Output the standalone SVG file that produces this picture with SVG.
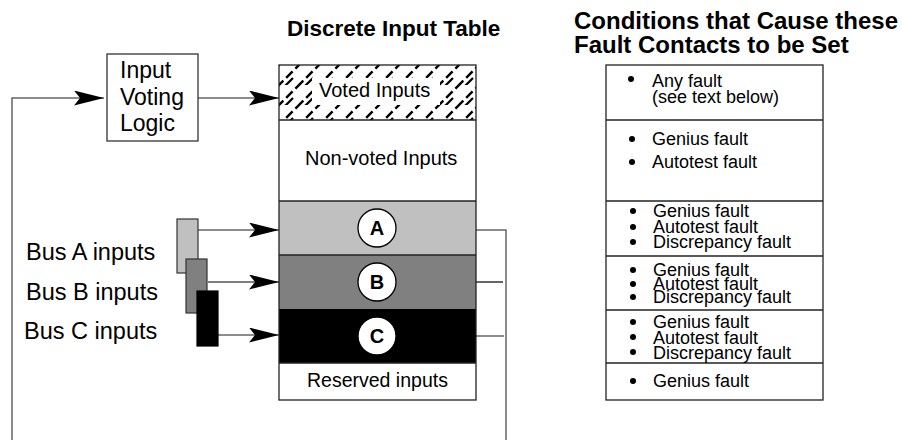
<svg xmlns="http://www.w3.org/2000/svg" width="902" height="442" viewBox="0 0 902 442">
<style>
text{font-family:"Liberation Sans",Arial,sans-serif;fill:#000}
.title{font-weight:bold;font-size:22.5px}
.big{font-size:23px}
.bus{font-size:23.5px}
.tbl{font-size:20px}
.cond{font-size:18px}
.lbl{font-weight:bold;font-size:20px;text-anchor:middle}
.box{fill:#fff;stroke:#333;stroke-width:1.3}
.conn{fill:none;stroke:#666;stroke-width:1.5}
.connb{fill:none;stroke:#000;stroke-width:1.2}
.row{stroke:#222;stroke-width:1.3}
.circ{fill:#fff;stroke:#000;stroke-width:1.3}
.dot{fill:#000}
</style>
<defs>
<marker id="arr" viewBox="0 0 30 15" refX="30" refY="7.5" markerWidth="30" markerHeight="15" markerUnits="userSpaceOnUse" orient="auto">
<path d="M0,0 L30,7.5 L0,15 L6,7.5 Z" fill="#000"/>
</marker>
<pattern id="hatch" patternUnits="userSpaceOnUse" width="20" height="20" x="279" y="65">
<path d="M-2,22 L22,-2" stroke="#000" stroke-width="2.4" stroke-dasharray="9 4"/>
<path d="M-3,3 L3,-3 M17,23 L23,17" stroke="#000" stroke-width="2.4"/>
<path d="M5,22 L14,13" stroke="#000" stroke-width="2.2"/>
</pattern>
</defs>

<g id="titles">
<text class="title" x="287" y="36">Discrete Input Table</text>
<text class="title" x="574" y="29" style="font-size:24px">Conditions that Cause these</text>
<text class="title" x="574" y="53" style="font-size:24px">Fault Contacts to be Set</text>
</g>

<g id="connectors">
<polyline class="conn" points="12,440 12,98 104,98" marker-end="url(#arr)"/>
<line class="conn" x1="198" y1="98" x2="279" y2="98" marker-end="url(#arr)"/>
<line class="conn" x1="198" y1="230" x2="279" y2="230" marker-end="url(#arr)"/>
<line class="connb" x1="208" y1="282" x2="279" y2="282" marker-end="url(#arr)"/>
<line class="conn" x1="218" y1="335" x2="279" y2="335" marker-end="url(#arr)"/>
<polyline class="conn" points="476,230 506,230 506,440"/>
<line class="connb" x1="476" y1="282" x2="503" y2="282"/>
<line class="conn" x1="476" y1="336" x2="504" y2="336"/>
</g>

<g id="voting-logic">
<rect class="box" x="107" y="54" width="91" height="87"/>
<text class="big" x="120" y="78">Input</text>
<text class="big" x="120" y="105">Voting</text>
<text class="big" x="120" y="131">Logic</text>
</g>

<g id="bus-a">
<rect x="177" y="219" width="21" height="54" fill="#c0c0c0" stroke="#333" stroke-width="1.2"/>
<text class="bus" x="26" y="260">Bus A inputs</text>
</g>
<g id="bus-b">
<rect x="186" y="259" width="21" height="54" fill="#808080" stroke="#333" stroke-width="1.2"/>
<text class="bus" x="26" y="300">Bus B inputs</text>
</g>
<g id="bus-c">
<rect x="197" y="291" width="21" height="55" fill="#000" stroke="#000" stroke-width="1.2"/>
<text class="bus" x="24" y="339">Bus C inputs</text>
</g>

<g id="discrete-input-table">
<rect x="279" y="65" width="197" height="335" fill="#fff"/>
<rect x="279" y="65" width="197" height="55" fill="url(#hatch)"/>
<rect x="312" y="78" width="128" height="27" fill="#fff"/>
<text class="tbl" x="319" y="97">Voted Inputs</text>
<text class="tbl" x="305" y="165">Non-voted Inputs</text>
<rect x="279" y="201" width="197" height="54" fill="#c0c0c0"/>
<rect x="279" y="255" width="197" height="54" fill="#808080"/>
<rect x="279" y="309" width="197" height="54" fill="#000"/>
<line class="row" x1="279" y1="120" x2="476" y2="120"/>
<line class="row" x1="279" y1="201" x2="476" y2="201"/>
<line class="row" x1="279" y1="255" x2="476" y2="255"/>
<line class="row" x1="279" y1="363" x2="476" y2="363"/>
<rect x="279" y="65" width="197" height="335" fill="none" stroke="#222" stroke-width="1.3"/>
<text class="tbl" x="307" y="387" style="font-size:19.5px">Reserved inputs</text>
<circle class="circ" cx="377" cy="228" r="19"/>
<text class="lbl" x="377" y="235">A</text>
<circle class="circ" cx="377" cy="282" r="19"/>
<text class="lbl" x="377" y="289">B</text>
<circle class="circ" cx="377" cy="336" r="19"/>
<text class="lbl" x="377" y="343">C</text>
</g>

<g id="conditions-table">
<rect x="606" y="65" width="217" height="335" fill="#fff" stroke="#222" stroke-width="1.3"/>
<line class="row" x1="606" y1="120" x2="823" y2="120"/>
<line class="row" x1="606" y1="201" x2="823" y2="201"/>
<line class="row" x1="606" y1="256" x2="823" y2="256"/>
<line class="row" x1="606" y1="310" x2="823" y2="310"/>
<line class="row" x1="606" y1="363" x2="823" y2="363"/>

<circle class="dot" cx="631" cy="79" r="3"/>
<text class="cond" x="652" y="87">Any fault</text>
<text class="cond" x="652" y="103">(see text below)</text>

<circle class="dot" cx="632" cy="139" r="3"/>
<text class="cond" x="652" y="145">Genius fault</text>
<circle class="dot" cx="632" cy="162" r="3"/>
<text class="cond" x="652" y="168">Autotest fault</text>

<circle class="dot" cx="633" cy="211" r="3"/>
<text class="cond" x="653" y="217">Genius fault</text>
<circle class="dot" cx="633" cy="227" r="3"/>
<text class="cond" x="653" y="233">Autotest fault</text>
<circle class="dot" cx="633" cy="242" r="3"/>
<text class="cond" x="653" y="248">Discrepancy fault</text>

<circle class="dot" cx="633" cy="270" r="3"/>
<text class="cond" x="653" y="276">Genius fault</text>
<circle class="dot" cx="633" cy="284" r="3"/>
<text class="cond" x="653" y="290">Autotest fault</text>
<circle class="dot" cx="633" cy="297" r="3"/>
<text class="cond" x="653" y="303">Discrepancy fault</text>

<circle class="dot" cx="633" cy="322" r="3"/>
<text class="cond" x="653" y="328">Genius fault</text>
<circle class="dot" cx="633" cy="337" r="3"/>
<text class="cond" x="653" y="344">Autotest fault</text>
<circle class="dot" cx="633" cy="352" r="3"/>
<text class="cond" x="653" y="359">Discrepancy fault</text>

<circle class="dot" cx="633" cy="381" r="3"/>
<text class="cond" x="653" y="387">Genius fault</text>
</g>
</svg>
